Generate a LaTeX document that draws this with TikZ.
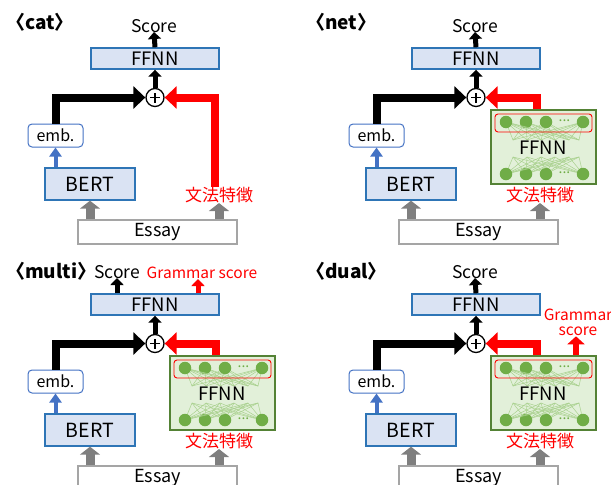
\documentclass[tikz,border=0pt]{standalone}
\usepackage{fontspec}
\setmainfont{Noto Sans CJK JP}
\usetikzlibrary{arrows.meta}
\definecolor{boxblue}{HTML}{DAE3F3}
\definecolor{lineblue}{HTML}{2E75B6}
\definecolor{embblue}{HTML}{4472C4}
\definecolor{gfill}{HTML}{E2F0D9}
\definecolor{gline}{HTML}{548235}
\definecolor{gnode}{HTML}{70AD47}
\definecolor{gedge}{HTML}{A9D18E}
\definecolor{arrgray}{HTML}{7F7F7F}
\definecolor{essgray}{HTML}{A5A5A5}
\newcommand\myfs[1]{\fontsize{#1}{#1}\selectfont}
\tikzset{
 ffnnbox/.style={draw=lineblue, fill=boxblue, line width=1.4pt, minimum width=128pt, minimum height=21pt, inner sep=0pt, font=\myfs{18.5}},
 bertbox/.style={draw=lineblue, fill=boxblue, line width=1.4pt, minimum width=90pt, minimum height=32pt, inner sep=0pt, font=\myfs{19.5}},
 embbox/.style={draw=embblue, fill=white, line width=1pt, rounded corners=4pt, minimum width=55pt, minimum height=23pt, inner sep=0pt, font=\myfs{16}},
 essaybox/.style={draw=essgray, fill=white, line width=1.4pt, minimum width=159pt, minimum height=24pt, inner sep=0pt, font=\myfs{18}},
 feat/.style={text=red, inner sep=0pt, font=\myfs{17}},
 txt/.style={inner sep=0pt, font=\myfs{17.5}},
 nettxt/.style={inner sep=0pt, font=\myfs{18.5}},
 redtxt/.style={text=red, inner sep=0pt, font=\myfs{15.5}, align=center},
 lbl/.style={inner sep=0pt, anchor=west, font=\myfs{19}\bfseries},
 plusnode/.style={circle, draw, fill=white, line width=1.3pt, minimum size=18pt, inner sep=0pt,
   path picture={\draw[line width=1.3pt] ([xshift=-5pt]path picture bounding box.center) -- ([xshift=5pt]path picture bounding box.center);
                 \draw[line width=1.3pt] ([yshift=-5pt]path picture bounding box.center) -- ([yshift=5pt]path picture bounding box.center);}},
 gbox/.style={draw=gline, fill=gfill, line width=1.5pt, minimum width=105pt, minimum height=74pt, inner sep=0pt},
 redrect/.style={draw=red, line width=0.9pt, rounded corners=3pt, minimum width=97pt, minimum height=18pt, inner sep=0pt},
 nn/.style={circle, fill=gnode, minimum size=12.5pt, inner sep=0pt},
 edge/.style={gedge, line width=0.5pt},
 blackarr/.style={line width=5pt, -{Triangle[width=13pt,length=7pt]}},
 bigblack/.style={line width=8pt, line join=miter, -{Triangle[width=22pt,length=12pt]}},
 bigred/.style={red, line width=8pt, line join=miter, -{Triangle[width=22pt,length=12pt]}},
 redarr/.style={red, line width=5pt, -{Triangle[width=13pt,length=7pt]}},
 redarr2/.style={red, line width=6pt, -{Triangle[width=17pt,length=8pt]}},
 bluearr/.style={embblue, line width=4pt, -{Triangle[width=12pt,length=9pt]}},
 grayarr/.style={arrgray, line width=9pt, -{Triangle[width=20pt,length=8pt]}},
}
\newcommand\basepanel[1]{%
 \node[ffnnbox] (#1ffnn) at (155,58.5) {FFNN};
 \node[plusnode] (#1plus) at (155,97.5) {};
 \node[embbox] (#1emb) at (55.5,135.5) {emb.};
 \node[bertbox] (#1bert) at (90,184) {BERT};
 \node[essaybox] (#1essay) at (157.5,232) {Essay};
 \node[feat] (#1feat) at (219,195) {文法特徴};
 \draw[blackarr] (#1plus.north) -- (#1ffnn.south);
 \draw[bigblack] (#1emb.north) |- (#1plus.west);
 \draw[bluearr] (#1bert.north -| #1emb.south) -- (#1emb.south);
 \draw[grayarr] (#1essay.north -| #1bert.south) -- (#1bert.south);
 \draw[grayarr] (#1essay.north -| #1feat.south) -- (#1feat.south);
}
\newcommand\netpanel[1]{%
 \node[gbox] (#1g) at (222.5,147) {};
 \foreach \x/\i in {185/1,205/2,225/3,262/4} {
   \node[nn] (#1t\i) at (\x,122) {};
   \node[nn] (#1b\i) at (\x,174) {};
 }
 \foreach \hx/\j in {192/1,206/2,220/3,234/4,248/5,258/6} {
   \coordinate (#1h\j) at (\hx,140);
   \coordinate (#1k\j) at (\hx,157);
 }
 \foreach \i in {1,2,3,4} {
   \foreach \j in {1,2,3,4,5,6} {
     \draw[edge] (#1t\i) -- (#1h\j);
     \draw[edge] (#1b\i) -- (#1k\j);
   }
 }
 \node[redrect] (#1r) at (222.5,123) {};
 \node[inner sep=0pt, text=gnode, font=\myfs{14}] (#1dt) at (243.5,121) {...};
 \node[inner sep=0pt, text=gnode, font=\myfs{14}] (#1db) at (243.5,173) {...};
 \node[nettxt] (#1ft) at (222,148) {FFNN};
 \draw[bigred] ([xshift=-6.5pt]#1g.north) |- (#1plus.east);
}
\begin{document}
\begin{tikzpicture}[x=1pt,y=-1pt]
\useasboundingbox (0,0) rectangle (611,485);
% labels
\node[lbl] (lcat) at (6,22) {〈cat〉};
\node[lbl] (lnet) at (306,22) {〈net〉};
\node[lbl] (lmulti) at (6,271) {〈multi〉};
\node[lbl] (ldual) at (306,271) {〈dual〉};
% cat
\begin{scope}
 \basepanel{c}
 \node[txt, anchor=base] (cscore) at (154,32) {Score};
 \draw[blackarr] (cffnn.north) -- (cscore.base);
 \draw[bigred] ([xshift=-4pt]cfeat.north) |- (cplus.east);
\end{scope}
% net
\begin{scope}[shift={(321,0)}]
 \basepanel{n}
 \netpanel{n}
 \node[txt, anchor=base] (nscore) at (154,32) {Score};
 \draw[blackarr] (nffnn.north) -- (nscore.base);
\end{scope}
% multi
\begin{scope}[shift={(0,246)}]
 \basepanel{m}
 \netpanel{m}
 \node[txt, anchor=base] (mscore) at (117,32) {Score};
 \node[redtxt, anchor=base] (mgs) at (202,32) {Grammar score};
 \coordinate (mgsa) at (198,33);
 \draw[blackarr] (mffnn.north -| mscore.base) -- (mscore.base);
 \draw[redarr] (mffnn.north -| mgsa) -- (mgsa);
\end{scope}
% dual
\begin{scope}[shift={(321,246)}]
 \basepanel{d}
 \netpanel{d}
 \node[txt, anchor=base] (dscore) at (154,32) {Score};
 \draw[blackarr] (dffnn.north) -- (dscore.base);
 \node[redtxt] (dgs) at (257,76.5) {Grammar\\score};
 \draw[redarr2] ([xshift=32.5pt]dg.north) -- ([xshift=-2pt]dgs.south);
\end{scope}
\end{tikzpicture}
\end{document}
